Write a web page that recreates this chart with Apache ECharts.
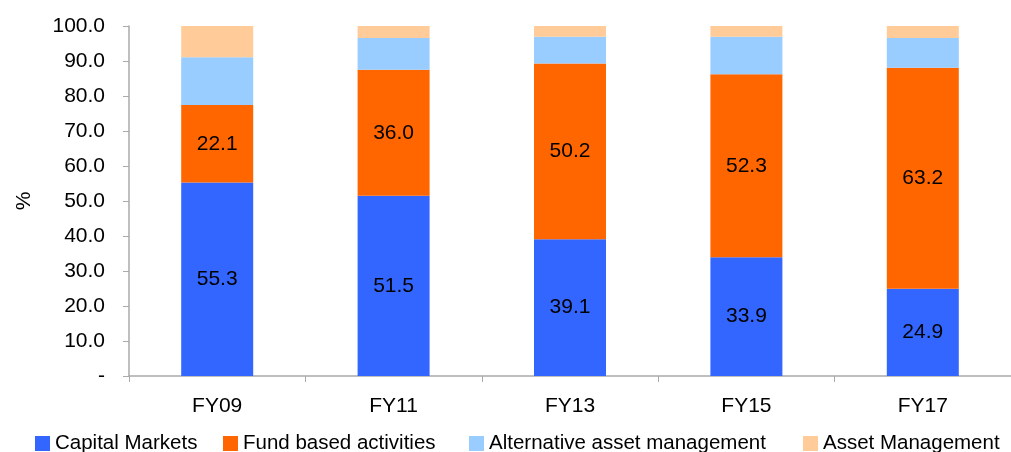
<!DOCTYPE html>
<html>
<head>
<meta charset="utf-8">
<script src="https://cdn.jsdelivr.net/npm/echarts@6/dist/echarts.min.js"></script>
<style>
  html, body { margin: 0; padding: 0; background: #fff; }
  #chart { width: 1011px; height: 452px; }
</style>
</head>
<body>
<div id="chart"></div>
<script>
// categories and series values (% share)
const categories = ['FY09', 'FY11', 'FY13', 'FY15', 'FY17'];
const seriesNames = ['Capital Markets', 'Fund based activities', 'Alternative asset management', 'Asset Management'];
const capitalMarkets = [55.3, 51.5, 39.1, 33.9, 24.9];
const fundBased = [22.1, 36.0, 50.2, 52.3, 63.2];
const altAssetMgmt = [13.7, 9.1, 7.6, 10.7, 8.5];
const assetMgmt = [8.9, 3.4, 3.1, 3.1, 3.4];

const chart = echarts.init(document.getElementById('chart'));

const font = 'Liberation Sans, Arial, sans-serif';
const dataLabel = {
  show: true,
  position: 'inside',
  color: '#000',
  fontSize: 21,
  fontFamily: font,
  formatter: p => p.value.toFixed(1)
};

function bar(name, data, color, label) {
  return {
    name: name,
    type: 'bar',
    stack: 'total',
    barWidth: 72,
    data: data,
    itemStyle: { color: color },
    label: label ? dataLabel : { show: false }
  };
}

// one legend per entry so each sits where the original put it
const legendLeft = [35, 223, 469, 803];
const legends = seriesNames.map((n, i) => ({
  top: 433,
  left: legendLeft[i],
  padding: 0,
  itemWidth: 15,
  itemHeight: 15,
  icon: 'rect',
  textStyle: { fontSize: 20.5, fontFamily: font, color: '#000' },
  data: [n]
}));

chart.setOption({
  animation: false,
  grid: { left: 129, right: -10, top: 26, bottom: 76 },
  legend: legends,
  xAxis: {
    type: 'category',
    data: categories,
    axisLine: { lineStyle: { color: '#aaa', width: 1.5 } },
    axisTick: { show: true, length: 6, lineStyle: { color: '#aaa' } },
    axisLabel: { color: '#000', fontSize: 21, fontFamily: font, margin: 20 }
  },
  yAxis: {
    type: 'value',
    min: 0,
    max: 100,
    interval: 10,
    name: '%',
    nameLocation: 'middle',
    nameGap: 94,
    nameTextStyle: { color: '#000', fontSize: 21, fontFamily: font },
    splitLine: { show: false },
    axisLine: { show: true, lineStyle: { color: '#aaa', width: 1.5 } },
    axisTick: { show: true, length: 6, lineStyle: { color: '#aaa' } },
    axisLabel: {
      color: '#000',
      fontSize: 21,
      fontFamily: font,
      margin: 24,
      formatter: v => (v === 0 ? '-' : v.toFixed(1))
    }
  },
  series: [
    bar(seriesNames[0], capitalMarkets, '#3366ff', true),
    bar(seriesNames[1], fundBased, '#ff6600', true),
    bar(seriesNames[2], altAssetMgmt, '#99ccff', false),
    bar(seriesNames[3], assetMgmt, '#ffcc99', false)
  ]
});
</script>
</body>
</html>
